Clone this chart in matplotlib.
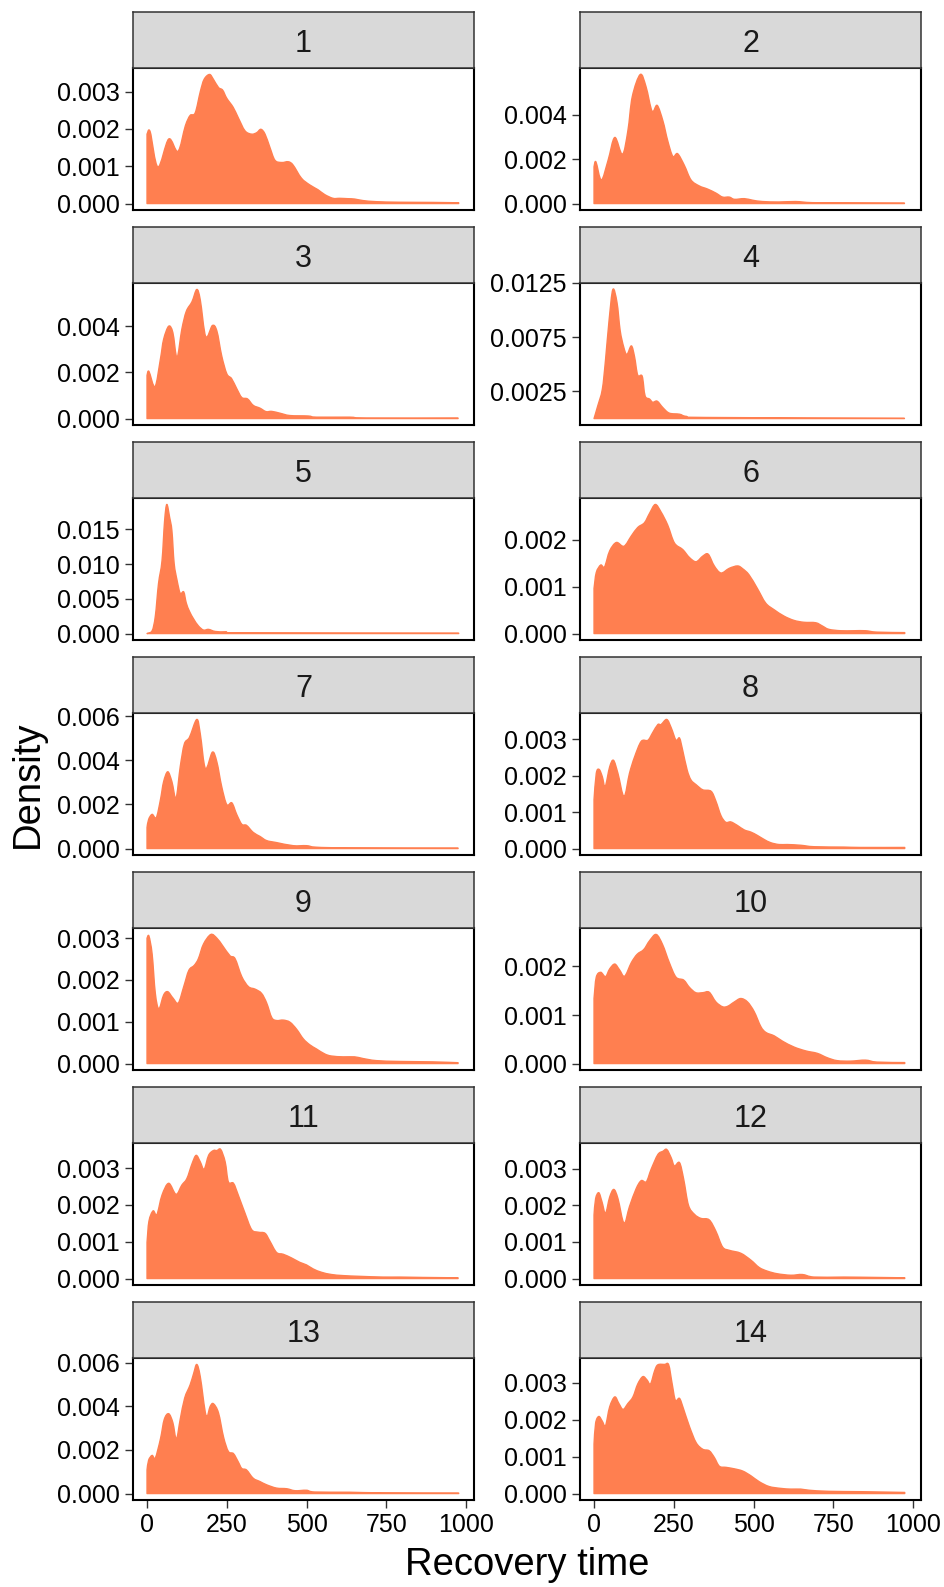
import matplotlib
matplotlib.use("Agg")
import matplotlib.pyplot as plt
from matplotlib.path import Path
from matplotlib.patches import PathPatch

plt.rcParams["font.family"] = ["Liberation Sans", "DejaVu Sans"]

# Recovery-time density estimates per group (x: recovery time, y: density)
x1 = [0, 10, 34, 68, 97, 120, 135, 151, 167, 179, 196, 208, 224, 237, 250, 270, 286, 307, 328, 344,
      357, 370, 385, 401, 422, 443, 458, 484, 510, 536, 557, 583, 604, 630, 651, 677, 719, 792, 896, 977]
d1 = [0.00186, 0.00192, 0.00098, 0.00173, 0.00140, 0.00208, 0.00236, 0.00243, 0.00300, 0.00333,
      0.00346, 0.00333, 0.00311, 0.00304, 0.00282, 0.00258, 0.00230, 0.00195, 0.00186, 0.00190,
      0.00199, 0.00186, 0.00151, 0.00116, 0.00110, 0.00112, 0.00103, 0.00068, 0.00050, 0.00037,
      0.00024, 0.00014, 0.00014, 0.00013, 0.00012, 0.00008, 0.00005, 0.000035, 0.00003, 0.00002]

x2 = [0, 6, 23, 44, 65, 89, 106, 120, 145, 163, 182, 198, 216, 231, 247, 262, 283, 304, 330, 356,
      382, 403, 424, 440, 471, 497, 528, 580, 632, 684, 788, 973]
d2 = [0.00165, 0.00187, 0.00106, 0.00194, 0.00297, 0.00221, 0.00326, 0.00481, 0.00580, 0.00525,
      0.00415, 0.00441, 0.00371, 0.00282, 0.00212, 0.00224, 0.00172, 0.00106, 0.00079, 0.00065,
      0.00047, 0.00029, 0.00029, 0.00019, 0.00022, 0.00015, 0.00009, 0.00007, 0.00009, 0.00004,
      0.00003, 0.00002]

x3 = [0, 6, 25, 42, 52, 68, 81, 94, 109, 123, 141, 156, 167, 184, 205, 219, 234, 250, 265, 281,
      297, 315, 333, 354, 373, 391, 417, 448, 505, 531, 635, 687, 975]
d3 = [0.00187, 0.00204, 0.00138, 0.00258, 0.00343, 0.00400, 0.00372, 0.00265, 0.00386, 0.00464,
      0.00506, 0.00559, 0.00513, 0.00355, 0.00403, 0.00379, 0.00272, 0.00194, 0.00173, 0.00130,
      0.00091, 0.00085, 0.00057, 0.00045, 0.00030, 0.00031, 0.00023, 0.00013, 0.00011, 0.00006,
      0.00006, 0.00002, 0.00002]

x4 = [0, 12, 26, 36, 47, 59, 72, 82, 93, 103, 117, 127, 137, 151, 160, 174, 184, 198, 216, 236,
      268, 289, 351, 973]
d4 = [0.0, 0.0012, 0.0027, 0.0054, 0.0090, 0.0119, 0.0107, 0.0081, 0.0066, 0.0059,
      0.0067, 0.0057, 0.0040, 0.0039, 0.0021, 0.0018, 0.0015, 0.0016, 0.0010, 0.0005,
      0.0004, 0.0002, 0.0001, 0.00002]

x5 = [0, 16, 26, 36, 47, 55, 62, 71, 78, 85, 94, 104, 115, 123, 133, 146, 161, 177, 193, 214,
      250, 292, 977]
d5 = [0.0, 0.0004, 0.0025, 0.0072, 0.0105, 0.0162, 0.0186, 0.0167, 0.0148, 0.0101,
      0.0077, 0.0058, 0.0060, 0.0044, 0.0032, 0.0021, 0.0011, 0.0005, 0.0006, 0.0003,
      0.0002, 0.0001, 0.00005]

x6 = [0, 7, 21, 33, 49, 70, 94, 117, 137, 158, 174, 192, 210, 231, 252, 278, 299, 320, 341, 358,
      377, 398, 424, 450, 466, 486, 512, 538, 564, 596, 627, 658, 695, 716, 736, 773, 814, 851, 887, 974]
d6 = [0.00096, 0.00130, 0.00146, 0.00142, 0.00176, 0.00194, 0.00186, 0.00208, 0.00226, 0.00236,
      0.00256, 0.00275, 0.00259, 0.00231, 0.00193, 0.00179, 0.00162, 0.00153, 0.00165, 0.00169,
      0.00144, 0.00129, 0.00139, 0.00144, 0.00138, 0.00125, 0.00096, 0.00065, 0.00051, 0.00037,
      0.00028, 0.00024, 0.00023, 0.00016, 0.00009, 0.00006, 0.00006, 0.00006, 0.00003, 0.00002]

x7 = [0, 5, 16, 29, 42, 52, 65, 78, 91, 104, 117, 133, 156, 167, 183, 205, 219, 234, 250, 266,
      281, 297, 312, 333, 354, 375, 406, 458, 500, 531, 635, 975]
d7 = [0.00095, 0.00132, 0.00155, 0.00140, 0.00221, 0.00303, 0.00348, 0.00303, 0.00229, 0.00370,
      0.00474, 0.00504, 0.00585, 0.00519, 0.00363, 0.00437, 0.00392, 0.00281, 0.00199, 0.00207,
      0.00155, 0.00110, 0.00105, 0.00073, 0.00055, 0.00036, 0.00027, 0.00013, 0.00013, 0.00006,
      0.00003, 0.00002]

x8 = [0, 7, 16, 26, 35, 49, 61, 75, 94, 111, 127, 148, 169, 184, 200, 210, 228, 242, 257, 268,
      278, 292, 304, 320, 341, 367, 382, 398, 413, 429, 450, 471, 492, 512, 533, 554, 580, 606, 648, 690,
      783, 835, 974]
d8 = [0.00134, 0.00206, 0.00217, 0.00197, 0.00170, 0.00224, 0.00242, 0.00206, 0.00143, 0.00206,
      0.00251, 0.00294, 0.00297, 0.00318, 0.00340, 0.00340, 0.00354, 0.00331, 0.00297, 0.00303,
      0.00269, 0.00215, 0.00188, 0.00175, 0.00161, 0.00157, 0.00130, 0.00090, 0.00072, 0.00073,
      0.00063, 0.00051, 0.00045, 0.00036, 0.00025, 0.00016, 0.00011, 0.00011, 0.00009, 0.00005,
      0.00004, 0.00003, 0.00003]

x9 = [0, 6, 16, 26, 37, 52, 65, 81, 98, 115, 131, 148, 161, 177, 200, 219, 237, 260, 276, 297,
      318, 339, 359, 375, 391, 406, 427, 448, 469, 490, 510, 531, 557, 578, 615, 651, 677, 719, 792, 896,
      975]
d9 = [0.00300, 0.00305, 0.00262, 0.00168, 0.00131, 0.00164, 0.00172, 0.00157, 0.00145, 0.00184,
      0.00223, 0.00235, 0.00251, 0.00286, 0.00309, 0.00300, 0.00282, 0.00258, 0.00251, 0.00208,
      0.00184, 0.00178, 0.00168, 0.00145, 0.00110, 0.00103, 0.00104, 0.00099, 0.00082, 0.00059,
      0.00045, 0.00035, 0.00023, 0.00018, 0.00016, 0.00016, 0.00012, 0.00007, 0.00005, 0.00004,
      0.00002]

x10 = [0, 7, 21, 36, 49, 65, 80, 96, 117, 135, 156, 174, 195, 215, 236, 257, 281, 299, 319, 341,
       361, 382, 403, 419, 440, 460, 481, 502, 523, 539, 565, 591, 627, 664, 700, 731, 762, 804, 851, 887,
       974]
d10 = [0.00134, 0.00178, 0.00188, 0.00179, 0.00195, 0.00205, 0.00193, 0.00180, 0.00208, 0.00225,
       0.00235, 0.00253, 0.00266, 0.00245, 0.00208, 0.00178, 0.00172, 0.00157, 0.00146, 0.00146,
       0.00147, 0.00127, 0.00117, 0.00118, 0.00127, 0.00134, 0.00127, 0.00107, 0.00076, 0.00064,
       0.00057, 0.00046, 0.00034, 0.00026, 0.00021, 0.00012, 0.00006, 0.00005, 0.00007, 0.00003,
       0.00002]

x11 = [0, 6, 19, 31, 47, 68, 91, 109, 125, 141, 154, 167, 179, 193, 208, 219, 231, 245, 255, 271,
       286, 307, 328, 349, 370, 385, 406, 427, 453, 479, 500, 521, 547, 578, 615, 667, 740, 792, 865, 975]
d11 = [0.00098, 0.00156, 0.00184, 0.00174, 0.00227, 0.00259, 0.00229, 0.00254, 0.00272, 0.00312,
       0.00335, 0.00317, 0.00297, 0.00335, 0.00348, 0.00348, 0.00351, 0.00317, 0.00263, 0.00259,
       0.00227, 0.00178, 0.00133, 0.00126, 0.00123, 0.00102, 0.00071, 0.00066, 0.00056, 0.00044,
       0.00037, 0.00026, 0.00017, 0.00011, 0.00008, 0.00006, 0.00004, 0.00004, 0.00003, 0.00002]

x12 = [0, 5, 15, 25, 36, 49, 62, 75, 94, 111, 132, 148, 164, 179, 200, 216, 228, 242, 252, 268,
       281, 296, 315, 335, 361, 382, 403, 424, 460, 492, 518, 544, 575, 617, 653, 690, 783, 887, 974]
d12 = [0.00173, 0.00218, 0.00234, 0.00209, 0.00178, 0.00222, 0.00243, 0.00218, 0.00151, 0.00196,
       0.00245, 0.00267, 0.00264, 0.00298, 0.00338, 0.00347, 0.00352, 0.00329, 0.00307, 0.00316,
       0.00271, 0.00200, 0.00175, 0.00164, 0.00160, 0.00129, 0.00086, 0.00077, 0.00069, 0.00050,
       0.00030, 0.00020, 0.00013, 0.00009, 0.00011, 0.00004, 0.00004, 0.00003, 0.00002]

x13 = [0, 5, 16, 26, 42, 54, 68, 81, 92, 104, 118, 135, 146, 156, 167, 185, 198, 208, 224, 240,
       255, 271, 286, 297, 312, 333, 354, 375, 406, 438, 464, 500, 526, 635, 740, 977]
d13 = [0.00108, 0.00153, 0.00175, 0.00163, 0.00250, 0.00340, 0.00366, 0.00325, 0.00250, 0.00340,
       0.00438, 0.00498, 0.00550, 0.00592, 0.00535, 0.00358, 0.00400, 0.00412, 0.00370, 0.00258,
       0.00193, 0.00183, 0.00145, 0.00115, 0.00108, 0.00070, 0.00055, 0.00040, 0.00025, 0.00022,
       0.00013, 0.00015, 0.00007, 0.00006, 0.00003, 0.00002]

x14 = [0, 5, 15, 26, 36, 49, 65, 78, 91, 106, 122, 137, 153, 166, 177, 190, 200, 221, 234, 245,
       255, 268, 280, 299, 320, 341, 361, 377, 393, 414, 440, 466, 492, 518, 549, 585, 617, 648, 674, 736,
       840, 974]
d14 = [0.00134, 0.00191, 0.00209, 0.00196, 0.00184, 0.00235, 0.00262, 0.00244, 0.00228, 0.00244,
       0.00262, 0.00297, 0.00317, 0.00308, 0.00297, 0.00333, 0.00349, 0.00350, 0.00349, 0.00297,
       0.00253, 0.00258, 0.00231, 0.00182, 0.00138, 0.00120, 0.00116, 0.00098, 0.00074, 0.00071,
       0.00067, 0.00061, 0.00048, 0.00032, 0.00019, 0.00014, 0.00012, 0.00012, 0.00009, 0.00006,
       0.00005, 0.00003]

group_labels = ["1", "2", "3", "4", "5", "6", "7", "8", "9", "10", "11", "12", "13", "14"]
x_series = [x1, x2, x3, x4, x5, x6, x7, x8, x9, x10, x11, x12, x13, x14]
d_series = [d1, d2, d3, d4, d5, d6, d7, d8, d9, d10, d11, d12, d13, d14]

# y-axis breaks per facet (free y scales)
ticks_3 = [0.000, 0.001, 0.002, 0.003]
ticks_2 = [0.000, 0.001, 0.002]
ticks_even = [0.000, 0.002, 0.004]
ticks_even6 = [0.000, 0.002, 0.004, 0.006]
ticks_g4 = [0.0025, 0.0075, 0.0125]
ticks_g5 = [0.000, 0.005, 0.010, 0.015]
y_breaks = [ticks_3, ticks_even, ticks_even, ticks_g4, ticks_g5, ticks_2, ticks_even6,
            ticks_3, ticks_3, ticks_2, ticks_3, ticks_3, ticks_even6, ticks_3]
y_decimals = [3, 3, 3, 4, 3, 3, 3, 3, 3, 3, 3, 3, 3, 3]
x_breaks = [0, 250, 500, 750, 1000]

FILL = "#FF7F50"


def density_patch(xs, ds):
    """Closed area under a smooth (Catmull-Rom as cubic Bezier) curve through the points."""
    pts = list(zip(xs, ds))
    n = len(pts)
    verts = [(xs[0], 0.0), pts[0]]
    codes = [Path.MOVETO, Path.LINETO]
    for k in range(n - 1):
        p0 = pts[k - 1] if k > 0 else pts[k]
        p1, p2 = pts[k], pts[k + 1]
        p3 = pts[k + 2] if k + 2 < n else pts[k + 1]
        c1 = (p1[0] + (p2[0] - p0[0]) / 6, max(p1[1] + (p2[1] - p0[1]) / 6, 0.0))
        c2 = (p2[0] - (p3[0] - p1[0]) / 6, max(p2[1] - (p3[1] - p1[1]) / 6, 0.0))
        verts += [c1, c2, p2]
        codes += [Path.CURVE4] * 3
    verts += [(xs[-1], 0.0), (xs[0], 0.0)]
    codes += [Path.LINETO, Path.CLOSEPOLY]
    return PathPatch(Path(verts, codes), facecolor=FILL, edgecolor=FILL,
                     linewidth=1.0, joinstyle="round", zorder=2)


W, H = 944, 1587
fig = plt.figure(figsize=(W / 100, H / 100), dpi=100)
fig.patch.set_facecolor("white")

col_left = [133, 580]
panel_w = 341
top0, row_step, strip_h, panel_h = 12, 215, 56, 142

for i, (lab, xs, ds) in enumerate(zip(group_labels, x_series, d_series)):
    r, c = divmod(i, 2)
    left = col_left[c]
    s_top = top0 + r * row_step
    p_top = s_top + strip_h

    ax = fig.add_axes([left / W, 1 - (p_top + panel_h) / H, panel_w / W, panel_h / H])
    ax.add_patch(density_patch(xs, ds))
    dmax = max(ds)
    ax.set_ylim(-0.05 * dmax, 1.05 * dmax)
    ax.set_xlim(-44, 1025)
    ax.set_yticks(y_breaks[i])
    ax.set_yticklabels([f"{v:.{y_decimals[i]}f}" for v in y_breaks[i]])
    ax.tick_params(axis="y", length=5.5, width=1.0, color="#333333", pad=4,
                   labelsize=18, labelcolor="black")
    if r == 6:
        ax.set_xticks(x_breaks)
        ax.set_xticklabels([str(v) for v in x_breaks])
        ax.tick_params(axis="x", length=5.5, width=1.0, color="#333333", pad=4,
                       labelsize=18, labelcolor="black")
    else:
        ax.set_xticks([])
    for sp in ax.spines.values():
        sp.set_color("black")
        sp.set_linewidth(1.5)
        sp.set_zorder(5)

    sax = fig.add_axes([left / W, 1 - p_top / H, panel_w / W, strip_h / H])
    sax.set_facecolor("#D9D9D9")
    sax.set_xticks([])
    sax.set_yticks([])
    for sp in sax.spines.values():
        sp.set_color("#333333")
        sp.set_linewidth(1.1)
    sax.text(0.5, 0.29, lab, transform=sax.transAxes, ha="center", va="baseline",
             fontsize=22, color="#1A1A1A")

fig.text(28 / W, 1 - 784 / H, "Density", rotation=90, ha="center", va="center", fontsize=27.5)
fig.text(527 / W, 12 / H, "Recovery time", ha="center", va="baseline", fontsize=27.5)

fig.savefig("out.png", dpi=100)
